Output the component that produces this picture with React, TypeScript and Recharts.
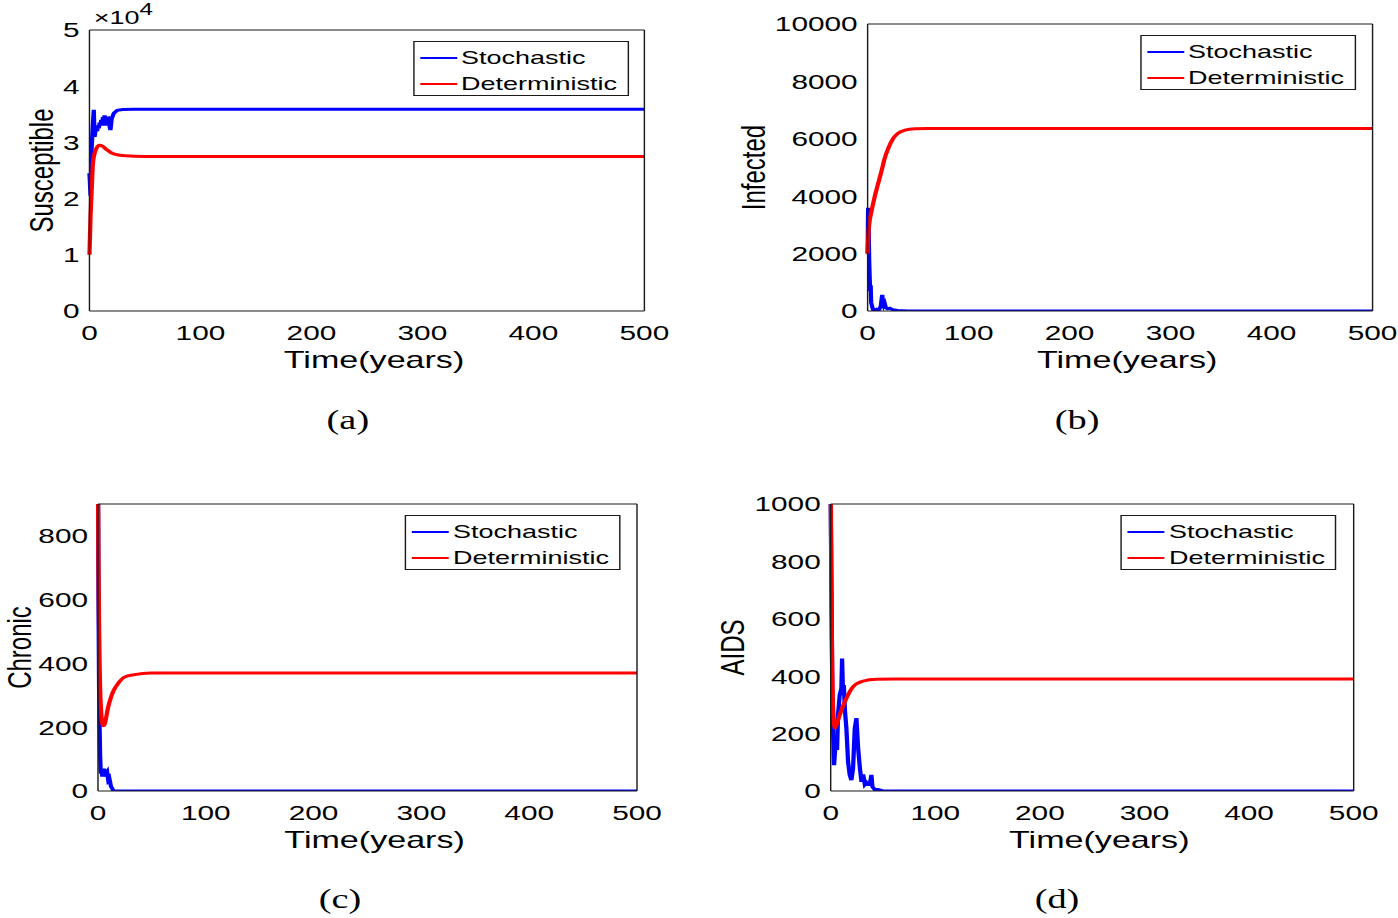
import React from 'react';
import { LineChart, Line, XAxis, YAxis, Legend } from 'recharts';

// the reference figure is stretched sideways, so we lay it out narrow and stretch it back
const SX = 1.42;
const FONT = '"Liberation Sans", Arial, sans-serif';
const SERIF = '"Liberation Serif", "DejaVu Serif", serif';
const AX = '#1a1a1a';
const BLUE = '#0000ff';
const RED = '#ff0000';
const SERIES = ['Stochastic', 'Deterministic'];
const X_TICKS = [0, 100, 200, 300, 400, 500];

// (a) Susceptible
const tDetA = [0, 1, 2, 3, 4, 6, 9, 12, 15, 20, 25, 30, 40, 60, 100, 200, 300, 400, 500];
const detA = [10000, 17000, 21500, 26000, 27500, 28800, 29500, 29300, 28800, 28100, 27800, 27650, 27550, 27500, 27500, 27500, 27500, 27500, 27500];
const tStoA = [0, 1, 2, 3, 3.9, 4.6, 5.4, 6.2, 6.9, 7.7, 8.4, 9.2, 9.9, 10.6, 11.4, 12.2, 12.9, 13.6, 14.4, 15.2, 15.9, 16.6, 17.4, 18.2, 18.9, 20, 22, 25, 30, 40, 500];
const stoA = [24500, 20500, 29000, 33000, 35800, 31000, 32000, 32800, 32000, 33000, 32500, 33500, 33000, 34000, 33000, 34500, 33800, 34800, 33000, 34200, 33500, 34600, 34000, 32800, 32200, 34200, 35200, 35700, 35850, 35900, 35900];
const yTicksA = [0, 10000, 20000, 30000, 40000, 50000];

// (b) Infected
const tDetB = [0, 1, 2, 3.5, 7, 10.5, 14, 17, 20.5, 25.5, 30, 37, 47, 60, 100, 200, 300, 400, 500];
const detB = [2000, 2800, 3150, 3420, 3980, 4450, 4910, 5330, 5670, 6020, 6190, 6300, 6350, 6360, 6360, 6360, 6360, 6360, 6360];
const tStoB = [0, 0.5, 1, 1.5, 2, 2.5, 3, 3.5, 4.5, 5.5, 7, 9, 11, 13, 14, 14.5, 15.3, 16, 17, 18, 20, 22, 25, 30, 40, 500];
const stoB = [2000, 3600, 3000, 1800, 1200, 700, 900, 300, 150, 40, 20, 60, 30, 150, 450, 560, 250, 180, 250, 120, 80, 100, 40, 20, 0, 0];
const yTicksB = [0, 2000, 4000, 6000, 8000, 10000];

// (c) Chronic
const tDetC = [0, 0.5, 1, 1.5, 2, 3, 4, 5, 6, 7, 9.1, 12.2, 15, 18.4, 24.6, 33.9, 49, 70, 100, 200, 300, 400, 500];
const detC = [1000, 700, 520, 400, 320, 245, 212, 205, 208, 220, 258, 295, 318, 336, 357, 365, 370, 370, 370, 370, 370, 370, 370];
const tStoC = [0, 0.5, 1, 1.5, 2, 2.5, 3, 3.5, 4, 4.5, 5.5, 6.5, 7.5, 8.5, 9.5, 10.5, 12, 14, 16, 500];
const stoC = [1000, 600, 330, 200, 110, 65, 55, 70, 45, 60, 70, 45, 55, 60, 35, 40, 15, 3, 0, 0];
const yTicksC = [0, 200, 400, 600, 800];

// (d) AIDS
const tDetD = [0, 0.5, 1, 1.5, 2, 3, 3.8, 5, 6, 8.6, 15, 21.4, 31, 44, 60, 100, 200, 300, 400, 500];
const detD = [1100, 800, 560, 420, 320, 245, 220, 225, 235, 265, 323, 363, 383, 389, 390, 390, 390, 390, 390, 390];
const tStoD = [0, 1, 1.6, 2.2, 3.2, 4.8, 6.1, 7, 8.6, 10.2, 10.9, 11.8, 12.5, 13.7, 15, 16.6, 18.2, 19.8, 21.4, 23, 24.6, 26.2, 27.8, 29.4, 31, 32.6, 34.2, 35.8, 37.4, 38.9, 39.9, 42.1, 45.3, 50, 500];
const stoD = [1000, 600, 300, 218, 90, 172, 143, 265, 334, 358, 462, 334, 369, 276, 218, 102, 56, 38, 80, 218, 254, 150, 84, 32, 58, 23, 30, 23, 23, 56, 15, 5, 5, 0, 0];
const yTicksD = [0, 200, 400, 600, 800, 1000];

const zip = (t: number[], v: number[]) => t.map((x, i) => ({ t: x, v: v[i] }));

type Box = { left: number; top: number; right: number; bottom: number };

function LegendBox() {
  const colors = [BLUE, RED];
  return (
    <div style={{ position: 'relative', width: 152, height: 55, boxSizing: 'border-box', border: `1px solid ${AX}`, background: '#fff', fontFamily: FONT, fontSize: 19 }}>
      {SERIES.map((s, i) => (
        <div key={s} style={{ position: 'absolute', left: 0, top: 16 + i * 26 - 11, height: 22, width: 152 }}>
          <div style={{ position: 'absolute', left: 4, top: 10, width: 26, height: 2, background: colors[i] }} />
          <div style={{ position: 'absolute', left: 33, top: 0, lineHeight: '22px', color: '#000', whiteSpace: 'nowrap' }}>{s}</div>
        </div>
      ))}
    </div>
  );
}

function XTitle(p: any) {
  const vb = p.viewBox || {};
  return (
    <text x={vb.x + vb.width / 2 + 5} y={vb.y + 57} textAnchor="middle" fontFamily={FONT} fontSize={24} fill="#000">
      Time(years)
    </text>
  );
}

function YTitle(p: any) {
  const vb = p.viewBox || {};
  const x = vb.x + vb.width - p.gap;
  const y = vb.y + vb.height / 2;
  return (
    <text x={x} y={y} transform={`rotate(-90, ${x}, ${y})`} textAnchor="middle" fontFamily={FONT} fontSize={24} fill="#000">
      {p.text}
    </text>
  );
}

function Panel({ box, yTitle, gap, yDomain, yTicks, yFmt, sto, det }: {
  box: Box; yTitle: string; gap: number; yDomain: [number, number]; yTicks: number[];
  yFmt?: (v: number) => string; sto: { t: number; v: number }[]; det: { t: number; v: number }[];
}) {
  const lw = box.right - box.left;
  const lh = box.bottom - box.top;
  const tickStyle = { fontSize: 21, fill: '#000', fontFamily: FONT };
  return (
    <div style={{ position: 'absolute', left: box.left - 100, top: box.top - 30 }}>
      <LineChart width={lw + 130} height={lh + 130} margin={{ top: 30, right: 30, left: 40, bottom: 40 }}>
        <XAxis dataKey="t" type="number" domain={[0, 500]} ticks={X_TICKS} height={60} tickLine={false} tickSize={0} tickMargin={14}
          axisLine={{ stroke: AX }} tick={tickStyle} label={(p: any) => <XTitle {...p} />} />
        <XAxis xAxisId="bin" type="number" domain={[0, 500]} ticks={X_TICKS} orientation="bottom" mirror height={1} tick={false}
          tickSize={5} axisLine={false} tickLine={{ stroke: AX }} />
        <XAxis xAxisId="top" type="number" domain={[0, 500]} ticks={X_TICKS} orientation="top" mirror height={1} tick={false}
          tickSize={5} axisLine={{ stroke: AX }} tickLine={{ stroke: AX }} />
        <YAxis type="number" domain={yDomain} ticks={yTicks} allowDataOverflow width={60} tickLine={false} tickSize={0} tickMargin={7}
          axisLine={{ stroke: AX }} tick={tickStyle} tickFormatter={yFmt} label={(p: any) => <YTitle {...p} text={yTitle} gap={gap} />} />
        <YAxis yAxisId="lin" type="number" domain={yDomain} ticks={yTicks} allowDataOverflow mirror width={1} tick={false}
          tickSize={3.5} axisLine={false} tickLine={{ stroke: AX }} />
        <YAxis yAxisId="right" type="number" domain={yDomain} ticks={yTicks} allowDataOverflow orientation="right" mirror width={1} tick={false}
          tickSize={3.5} axisLine={{ stroke: AX }} tickLine={{ stroke: AX }} />
        <Legend layout="vertical" align="center" verticalAlign="middle"
          wrapperStyle={{ left: 100 + lw - 11.5 - 152, top: 41, width: 152, height: 55 }} content={() => <LegendBox />} />
        <Line data={sto} dataKey="v" name="Stochastic" type="linear" stroke={BLUE} strokeWidth={3} dot={false} isAnimationActive={false} />
        <Line data={det} dataKey="v" name="Deterministic" type="monotone" stroke={RED} strokeWidth={3} dot={false} isAnimationActive={false} />
      </LineChart>
    </div>
  );
}

const PANELS = [
  { id: 'a', box: { left: 63.4, right: 454.2, top: 30, bottom: 311 }, yTitle: 'Susceptible', gap: 26, yDomain: [0, 50000] as [number, number], yTicks: yTicksA, yFmt: (v: number) => String(v / 10000), sto: zip(tStoA, stoA), det: zip(tDetA, detA) },
  { id: 'b', box: { left: 610.6, right: 966.2, top: 24, bottom: 311 }, yTitle: 'Infected', gap: 72, yDomain: [0, 10000] as [number, number], yTicks: yTicksB, sto: zip(tStoB, stoB), det: zip(tDetB, detB) },
  { id: 'c', box: { left: 69, right: 448.6, top: 504, bottom: 791 }, yTitle: 'Chronic', gap: 47, yDomain: [0, 900] as [number, number], yTicks: yTicksC, sto: zip(tStoC, stoC), det: zip(tDetC, detC) },
  { id: 'd', box: { left: 584.5, right: 952.8, top: 504, bottom: 791 }, yTitle: 'AIDS', gap: 61, yDomain: [0, 1000] as [number, number], yTicks: yTicksD, sto: zip(tStoD, stoD), det: zip(tDetD, detD) },
];

const CAPTIONS = [
  { text: '(a)', x: 245, y: 429 },
  { text: '(b)', x: 758.5, y: 429 },
  { text: '(c)', x: 239.4, y: 908 },
  { text: '(d)', x: 744.4, y: 908 },
];

export default function App() {
  const W = 1398 / SX;
  return (
    <div style={{ position: 'absolute', left: 0, top: 0, width: W, height: 918, background: '#fff', transform: `scaleX(${SX})`, transformOrigin: '0 0', overflow: 'hidden' }}>
      {PANELS.map((p) => (
        <Panel key={p.id} box={p.box} yTitle={p.yTitle} gap={p.gap} yDomain={p.yDomain} yTicks={p.yTicks} yFmt={p.yFmt} sto={p.sto} det={p.det} />
      ))}
      <svg width={W} height={918} style={{ position: 'absolute', left: 0, top: 0, pointerEvents: 'none' }}>
        <text x={66} y={24} fontFamily={FONT} fontSize={19} fill="#000">
          ×10<tspan dy={-9} fontSize={17}>4</tspan>
        </text>
        {CAPTIONS.map((c) => (
          <text key={c.text} x={c.x} y={c.y} textAnchor="middle" fontFamily={SERIF} fontSize={27} fill="#000">{c.text}</text>
        ))}
      </svg>
    </div>
  );
}
